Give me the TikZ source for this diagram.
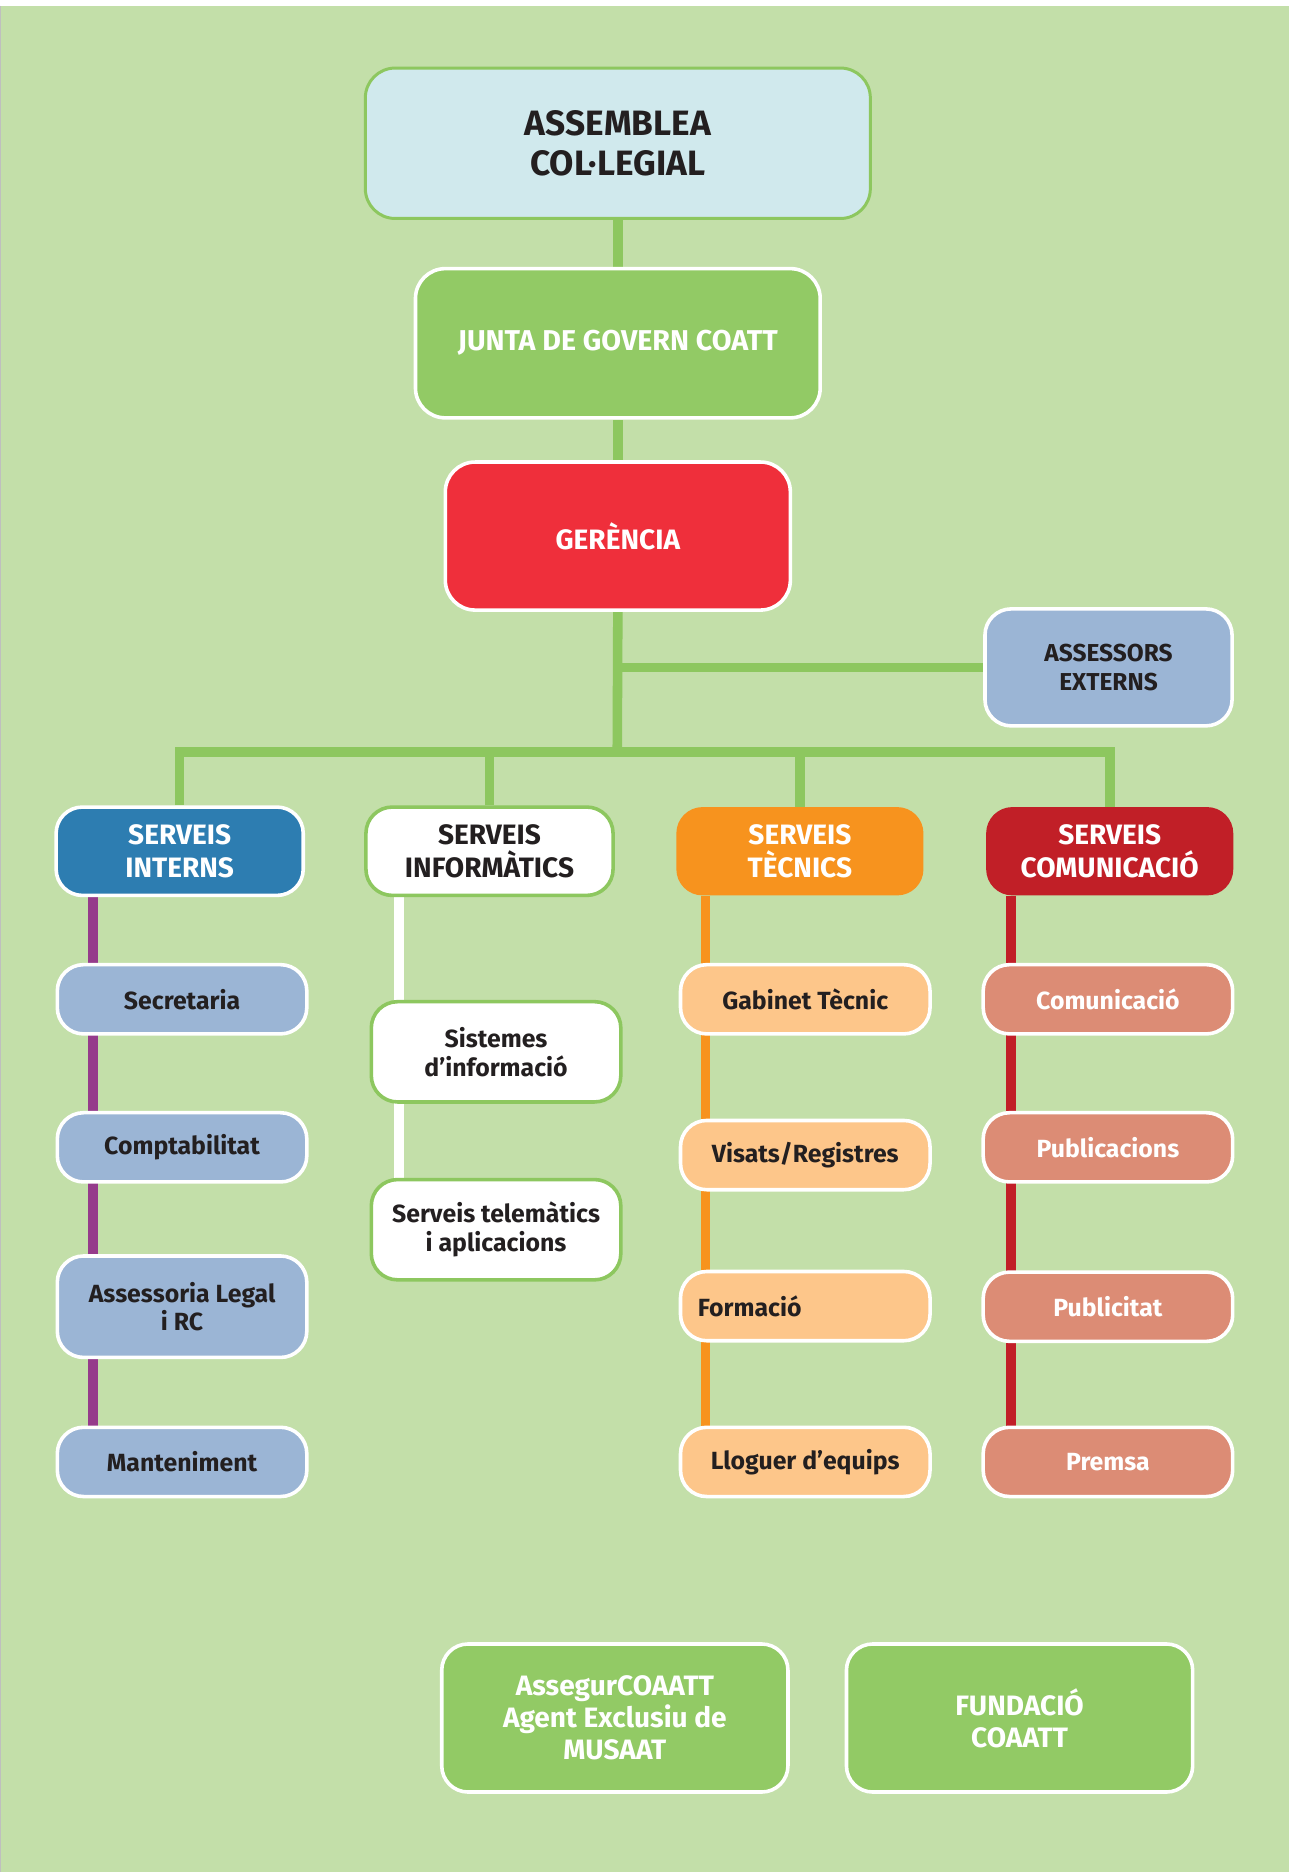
\documentclass[tikz,border=0pt]{standalone}
\usepackage{fontspec}
\setmainfont{Fira Sans}
\pgfdeclarelayer{bg}
\pgfdeclarelayer{lines}
\pgfsetlayers{bg,lines,main}
\definecolor{bggreen}{HTML}{C3DFA9}
\definecolor{conngreen}{HTML}{8DC75F}
\definecolor{juntagreen}{HTML}{92CA65}
\definecolor{assblue}{HTML}{D0E9ED}
\definecolor{gerred}{HTML}{EF2F3B}
\definecolor{paleblue}{HTML}{9BB5D5}
\definecolor{intblue}{HTML}{2D7DB1}
\definecolor{tecorange}{HTML}{F7931E}
\definecolor{comred}{HTML}{C11F27}
\definecolor{lightorange}{HTML}{FDC68A}
\definecolor{salmon}{HTML}{DC8C75}
\definecolor{purpleline}{HTML}{953B8B}
\definecolor{darktext}{HTML}{231F20}
\tikzset{
  box/.style={rectangle, rounded corners=22pt, inner sep=0pt, align=center},
  whiteedge/.style={draw=white, line width=3pt},
  greenedge/.style={draw=conngreen, line width=3pt},
  lvltwo/.style={box, minimum width=207pt, minimum height=74pt, font=\fontsize{23.5}{27}\selectfont\bfseries},
  lvlthree/.style={box, minimum width=209pt, minimum height=58pt, font=\fontsize{20.8}{24}\selectfont\bfseries},
  bigbox/.style={box, rounded corners=25pt, font=\fontsize{24}{27}\selectfont\bfseries},
  conn/.style={draw=conngreen, line width=8pt},
  colline/.style={line width=8pt},
}
\begin{document}
\begin{tikzpicture}[x=1pt,y=-1pt]
\useasboundingbox (0,0) rectangle (1080,1568);
\begin{pgfonlayer}{bg}
  \fill[white] (0,0) rectangle (1080,1568);
  \fill[bggreen] (0,5) rectangle (1080,1568);
  \draw[black!25, line width=1pt] (0.5,5) -- (0.5,1568);
\end{pgfonlayer}

% top hierarchy
\node[bigbox, fill=assblue, draw=conngreen, line width=2.5pt, minimum width=423pt, minimum height=126pt,
      text=darktext, font=\fontsize{29.5}{34}\selectfont\bfseries] (assemblea) at (517.5,120) {ASSEMBLEA\\COL·LEGIAL};
\node[bigbox, fill=juntagreen, whiteedge, minimum width=339pt, minimum height=125pt, text=white] (junta) at (517.5,287.5) {JUNTA DE GOVERN COATT};
\node[bigbox, fill=gerred, whiteedge, minimum width=289pt, minimum height=124pt, text=white, font=\fontsize{23.5}{27}\selectfont\bfseries] (gerencia) at (517.5,449) {GERÈNCIA};
\node[box, fill=paleblue, whiteedge, minimum width=207pt, minimum height=98pt, text=darktext, font=\fontsize{20.5}{24}\selectfont\bfseries] (assessors) at (928.5,559) {ASSESSORS\\EXTERNS};

% level 2
\node[lvltwo, fill=intblue, whiteedge, text=white] (interns) at (150.5,713) {SERVEIS\\INTERNS};
\node[lvltwo, fill=white, greenedge, text=darktext] (informatics) at (410,713) {SERVEIS\\INFORMÀTICS};
\node[lvltwo, fill=tecorange, text=white] (tecnics) at (670,713) {SERVEIS\\TÈCNICS};
\node[lvltwo, fill=comred, text=white] (comunicacio) at (929.5,713) {SERVEIS\\COMUNICACIÓ};

% level 3 - interns
\node[lvlthree, fill=paleblue, whiteedge, text=darktext] (secretaria) at (152.5,837) {Secretaria};
\node[lvlthree, fill=paleblue, whiteedge, text=darktext] (comptabilitat) at (152.5,961) {Comptabilitat};
\node[lvlthree, fill=paleblue, whiteedge, text=darktext, minimum height=85pt] (assessoria) at (152.5,1094.5) {Assessoria Legal\\i RC};
\node[lvlthree, fill=paleblue, whiteedge, text=darktext] (manteniment) at (152.5,1224.5) {Manteniment};

% level 3 - informatics
\node[lvlthree, fill=white, greenedge, text=darktext, minimum height=84pt] (sistemes) at (415.5,881) {Sistemes\\d’informació};
\node[lvlthree, fill=white, greenedge, text=darktext, minimum height=84pt] (telematics) at (415.5,1030) {Serveis telemàtics\\i aplicacions};

% level 3 - tecnics
\node[lvlthree, fill=lightorange, whiteedge, text=darktext] (gabinet) at (674.5,837) {Gabinet Tècnic};
\node[lvlthree, fill=lightorange, whiteedge, text=darktext] (visats) at (674.5,967.5) {Visats/Registres};
\node[lvlthree, fill=lightorange, whiteedge, text=darktext, align=left, text width=180pt] (formacio) at (674.5,1094) {Formació};
\node[lvlthree, fill=lightorange, whiteedge, text=darktext] (lloguer) at (674.5,1224.5) {Lloguer d’equips};

% level 3 - comunicacio
\node[lvlthree, fill=salmon, whiteedge, text=white] (comunic) at (928,837) {Comunicació};
\node[lvlthree, fill=salmon, whiteedge, text=white] (publicacions) at (928,961) {Publicacions};
\node[lvlthree, fill=salmon, whiteedge, text=white] (publicitat) at (928,1094.5) {Publicitat};
\node[lvlthree, fill=salmon, whiteedge, text=white] (premsa) at (928,1224.5) {Premsa};

% bottom
\node[bigbox, rounded corners=22pt, fill=juntagreen, whiteedge, minimum width=290pt, minimum height=124pt, text=white, font=\fontsize{23.5}{27}\selectfont\bfseries] (assegur) at (515,1439) {AssegurCOAATT\\Agent Exclusiu de\\MUSAAT};
\node[bigbox, rounded corners=22pt, fill=juntagreen, whiteedge, minimum width=290pt, minimum height=124pt, text=white, font=\fontsize{23.5}{27}\selectfont\bfseries] (fundacio) at (854,1439) {FUNDACIÓ\\COAATT};

% helper coordinates
\coordinate (bus) at (517,630);
\coordinate (xint) at (78,0);
\coordinate (xinf) at (334,0);
\coordinate (xtec) at (591,0);
\coordinate (xcom) at (847,0);

\begin{pgfonlayer}{lines}
  \draw[conn] (assemblea.south) -- (junta.north);
  \draw[conn] (junta.south) -- (gerencia.north);
  \draw[conn] (gerencia.south) -- (bus);
  \draw[conn] (gerencia.south |- assessors.west) -- (assessors.west);
  \draw[conn, line join=miter] (interns.north) |- (bus) -| (comunicacio.north);
  \draw[conn] (informatics.north) -- (informatics.north |- bus);
  \draw[conn] (tecnics.north) -- (tecnics.north |- bus);
  \draw[colline, draw=purpleline] (interns.south -| xint) -- (manteniment.north -| xint);
  \draw[colline, draw=white] (informatics.south -| xinf) -- (telematics.north -| xinf);
  \draw[colline, draw=tecorange] (tecnics.south -| xtec) -- (lloguer.north -| xtec);
  \draw[colline, draw=comred] (comunicacio.south -| xcom) -- (premsa.north -| xcom);
\end{pgfonlayer}
\end{tikzpicture}
\end{document}
